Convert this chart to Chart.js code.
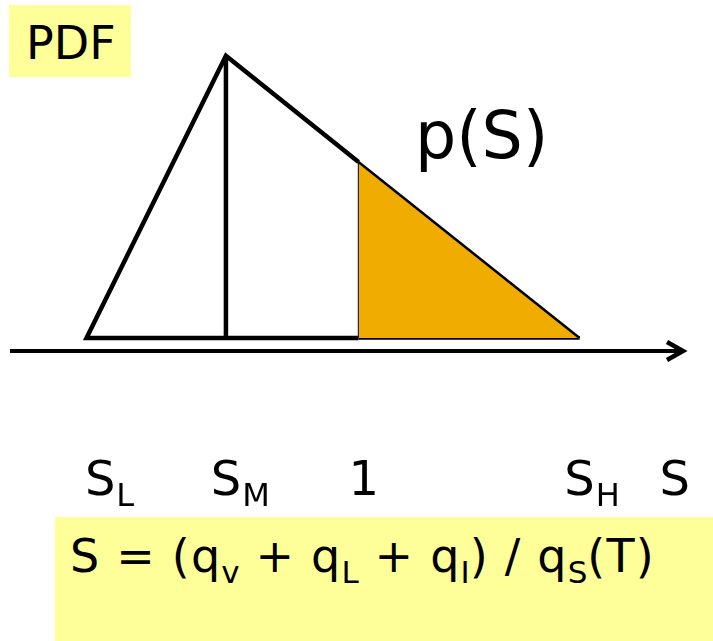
<!DOCTYPE html>
<html>
<head>
<meta charset="utf-8">
<script src="https://cdn.jsdelivr.net/npm/chart.js@4/dist/chart.umd.min.js"></script>
<style>
  body { margin: 0; background: #fff; font-family: "DejaVu Sans", sans-serif; }
  #wrap { position: relative; width: 713px; height: 641px; overflow: hidden; }
  #chart { position: absolute; left: 0; top: 0; }
  .box { position: absolute; background: #FFFF99; color: #000; }
  #pdfBox { left: 9px; top: 5px; width: 122px; height: 72px; }
  #pdfBox span { position: absolute; left: 17px; top: 15px; font-size: 46px; line-height: 46px; }
  #pS { position: absolute; left: 415px; top: 103px; font-size: 65px; line-height: 65px; }
  #formula { left: 55px; top: 517px; width: 658px; height: 124px; }
  #formula div { position: absolute; left: 15px; top: 16px; font-size: 46px; line-height: 46px; letter-spacing: 1.2px; white-space: nowrap; }
  .sub { font-size: 31px; position: relative; top: 11px; letter-spacing: 0; }
</style>
</head>
<body>
<div id="wrap">
  <canvas id="chart" width="713" height="641"></canvas>
  <div class="box" id="pdfBox"><span>PDF</span></div>
  <div id="pS">p(S)</div>
  <div class="box" id="formula"><div>S = (q<span class="sub">v</span> + q<span class="sub">L</span> + q<span class="sub">I</span>) / q<span class="sub">S</span>(T)</div></div>
</div>
<script>
// S_L, S_M, 1, S_H and the density p(S) at those points
const pdfS = [0.2, 0.61, 1, 1.65];
const pdfP = [0, 1.38, 0.86, 0];

// labels under the axis
const tickValues = [0.24, 0.61, 1.015, 1.65, 1.93];
const tickMain = ['S', 'S', '1', 'S', 'S'];
const tickSub = ['L', 'M', '', 'H', ''];

const axisMin = -0.025, axisMax = 1.96;
const pMin = -0.064, pMax = 1.43;

const pt = (i, useP) => ({ x: pdfS[i], y: useP ? pdfP[i] : 0 });

const lineSet = (data, width, extra) => Object.assign({
    data: data,
    borderColor: '#000',
    borderWidth: width,
    pointRadius: 0,
    tension: 0,
    fill: false,
    clip: false
}, extra || {});

const axisPlugin = {
    id: 'axisArrow',
    afterDatasetsDraw(chart) {
        const ctx = chart.ctx;
        const xs = chart.scales.x, ys = chart.scales.y;
        const y = ys.getPixelForValue(pMin);
        const x0 = xs.getPixelForValue(axisMin);
        const x1 = xs.getPixelForValue(axisMax);
        ctx.save();
        ctx.strokeStyle = '#000';
        ctx.lineWidth = 4;
        ctx.beginPath();
        ctx.moveTo(x0, y);
        ctx.lineTo(x1 - 3, y);
        ctx.stroke();
        ctx.lineWidth = 4.5;
        ctx.lineJoin = 'miter';
        ctx.beginPath();
        ctx.moveTo(x1 - 18, y - 9);
        ctx.lineTo(x1 - 2, y);
        ctx.lineTo(x1 - 18, y + 9);
        ctx.stroke();

        // tick labels with subscripts
        ctx.fillStyle = '#000';
        ctx.textBaseline = 'alphabetic';
        const base = 495;
        tickValues.forEach((v, i) => {
            const px = xs.getPixelForValue(v);
            ctx.font = '48px "DejaVu Sans"';
            const w = ctx.measureText(tickMain[i]).width;
            const left = px - w / 2;
            ctx.fillText(tickMain[i], left, base);
            if (tickSub[i]) {
                ctx.font = '32px "DejaVu Sans"';
                ctx.fillText(tickSub[i], left + w + 1, base + 11);
            }
        });
        ctx.restore();
    }
};

new Chart(document.getElementById('chart'), {
    type: 'line',
    data: {
        datasets: [
            lineSet([pt(2, true), pt(3, true)], 2.5, { fill: 'origin', backgroundColor: '#F0AD00' }),
            lineSet([pt(2, false), pt(3, false)], 3.5),
            lineSet([pt(2, false), pt(0, false), pt(1, true), pt(2, true)], 4.5),
            lineSet([pt(1, false), pt(1, true)], 4.5),
            lineSet([pt(2, false), pt(2, true)], 1.5)
        ]
    },
    options: {
        responsive: false,
        animation: false,
        layout: { padding: { left: 10, right: 28, top: 45.5, bottom: 290 } },
        plugins: { legend: { display: false }, tooltip: { enabled: false } },
        scales: {
            x: { type: 'linear', display: false, min: axisMin, max: axisMax },
            y: { type: 'linear', display: false, min: pMin, max: pMax }
        }
    },
    plugins: [axisPlugin]
});
</script>
</body>
</html>
